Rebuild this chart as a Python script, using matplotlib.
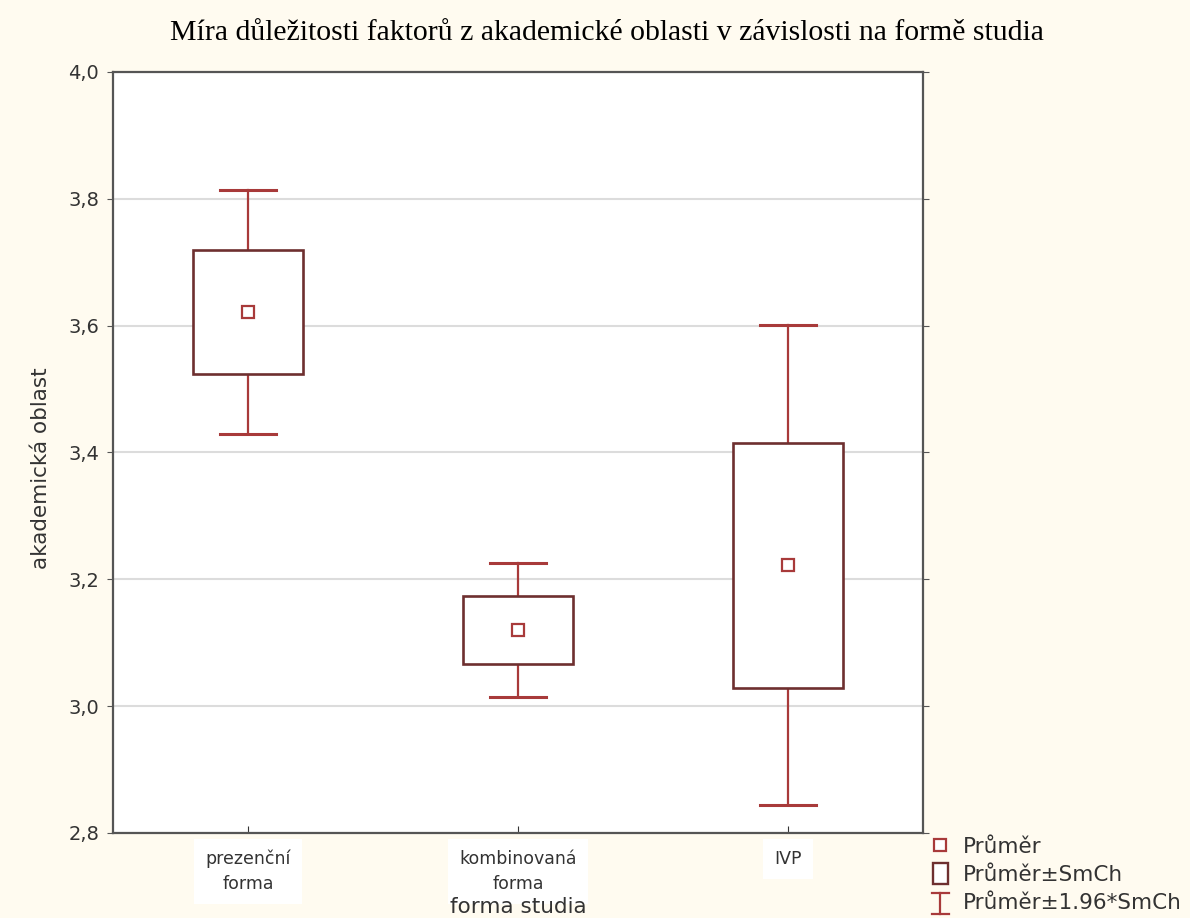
import matplotlib
matplotlib.use("Agg")
import matplotlib.pyplot as plt
from matplotlib.lines import Line2D
from matplotlib.patches import Rectangle
from matplotlib.legend_handler import HandlerBase

# Průměry a směrodatné chyby podle formy studia
kategorie = ["prezenční\nforma", "kombinovaná\nforma", "IVP"]
prumer = [3.622, 3.120, 3.222]
smch = [0.098, 0.054, 0.193]

cervena = "#a83a3a"
vinova = "#6e2f2f"
pozadi = "#fffbf0"


class HandlerInterval(HandlerBase):
    # kreslí značku ve tvaru "I" pro interval ±1.96*SmCh
    def create_artists(self, legend, orig_handle, xdescent, ydescent,
                       width, height, fontsize, trans):
        cx = width / 2 - xdescent
        y0 = -ydescent - 0.3 * height
        y1 = -ydescent + 1.1 * height
        w = 0.4 * width
        car = [Line2D([cx, cx], [y0, y1]),
               Line2D([cx - w, cx + w], [y0, y0]),
               Line2D([cx - w, cx + w], [y1, y1])]
        for c in car:
            c.set_color(cervena)
            c.set_linewidth(1.6)
            c.set_transform(trans)
        return car


class HandlerBox(HandlerBase):
    def create_artists(self, legend, orig_handle, xdescent, ydescent,
                       width, height, fontsize, trans):
        w = 0.7 * width
        h = 1.4 * height
        r = Rectangle((width / 2 - xdescent - w / 2, -ydescent + height / 2 - h / 2),
                      w, h, facecolor="white", edgecolor=vinova, lw=1.7,
                      transform=trans)
        return [r]


fig = plt.figure(figsize=(11.9, 9.18), dpi=100, facecolor=pozadi)
ax = fig.add_axes([0.095, 0.0926, 0.6806, 0.829])
ax.set_facecolor("white")

x = list(range(1, len(kategorie) + 1))
sirka = 0.41
cap = 0.105
for xi, m, s in zip(x, prumer, smch):
    lo95, hi95 = m - 1.96 * s, m + 1.96 * s
    # fousy ±1.96*SmCh
    ax.plot([xi, xi], [lo95, m - s], color=cervena, lw=1.6, zorder=3)
    ax.plot([xi, xi], [m + s, hi95], color=cervena, lw=1.6, zorder=3)
    ax.plot([xi - cap, xi + cap], [lo95, lo95], color=cervena, lw=2.2, zorder=3)
    ax.plot([xi - cap, xi + cap], [hi95, hi95], color=cervena, lw=2.2, zorder=3)
    # box ±SmCh
    ax.add_patch(Rectangle((xi - sirka / 2, m - s), sirka, 2 * s,
                           facecolor="white", edgecolor=vinova, lw=1.9, zorder=3))
ax.plot(x, prumer, ls="none", marker="s", ms=9, mfc="white", mec=cervena,
        mew=1.6, zorder=4)

ax.set_xlim(0.5, 3.5)
ax.set_ylim(2.8, 4.0)
yt = [2.8, 3.0, 3.2, 3.4, 3.6, 3.8, 4.0]
ax.set_yticks(yt)
ax.set_yticklabels([f"{v:.1f}".replace(".", ",") for v in yt])
ax.set_xticks(x)
ax.set_xticklabels(kategorie, fontsize=12.5, linespacing=1.5,
                   bbox=dict(facecolor="white", edgecolor="none", pad=8))
ax.grid(axis="y", color="#dcdcdc", lw=1.5)
ax.set_axisbelow(True)
ax.tick_params(axis="y", direction="out", length=4, labelsize=14,
               labelcolor="#333333", color="#555555", pad=6, right=True)
ax.tick_params(axis="x", direction="in", length=5, color="#333333",
               labelcolor="#333333", pad=12)
for sp in ax.spines.values():
    sp.set_color("#555555")
    sp.set_linewidth(1.6)

ax.set_ylabel("akademická oblast", fontsize=15.5, color="#333333")
ax.yaxis.set_label_coords(-0.076, 0.479)
ax.set_xlabel("forma studia", fontsize=15.5, color="#333333", labelpad=3)
fig.suptitle("Míra důležitosti faktorů z akademické oblasti v závislosti na formě studia",
             family="Liberation Serif", fontsize=21.4, x=0.51, y=0.978)

h1 = Line2D([], [], ls="none", marker="s", ms=8, mfc="white", mec=cervena, mew=1.6)
h2 = object()
h3 = object()
fig.legend([h1, h2, h3], ["Průměr", "Průměr±SmCh", "Průměr±1.96*SmCh"],
           handler_map={h2: HandlerBox(), h3: HandlerInterval()},
           loc="upper left", bbox_to_anchor=(0.781, 0.0882),
           frameon=False, fontsize=15.5, labelcolor="#333333",
           handlelength=1.0, handletextpad=0.55, labelspacing=0.38,
           borderpad=0, borderaxespad=0)

fig.savefig("out.png", dpi=100, facecolor=pozadi)
